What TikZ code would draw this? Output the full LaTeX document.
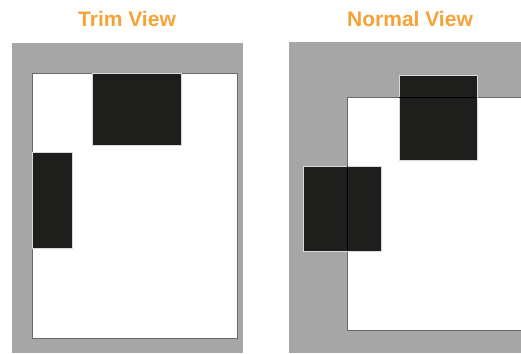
\documentclass[tikz,border=0pt]{standalone}
\usepackage{fontspec}
\setmainfont{Liberation Sans}
\definecolor{panelgray}{HTML}{A6A6A6}
\definecolor{blockblack}{HTML}{1E1E1C}
\definecolor{titleorange}{HTML}{F7A137}
\definecolor{pageedge}{HTML}{6A6A6A}
\tikzset{
  panel/.style={fill=panelgray, draw=none},
  page/.style={fill=white, draw=pageedge, line width=0.8pt},
  pageline/.style={draw=black, line width=0.8pt},
  block/.style={fill=blockblack, draw=black!15, line width=0.6pt},
  title/.style={text=titleorange, font=\fontsize{21}{24}\selectfont\bfseries, anchor=base}
}
\begin{document}
\begin{tikzpicture}[x=1pt,y=-1pt]
\useasboundingbox (0,0) rectangle (521,353);
% titles
\node[title] (t1) at (127,27) {Trim View};
\node[title] (t2) at (410,27) {Normal View};
% left panel
\fill[panel] (12,43) rectangle (243,353);
\draw[page] (32,73) rectangle (237,338);
\draw[block] (92,73) rectangle (181,145);
\draw[block] (32,152) rectangle (72,248);
% right panel
\fill[panel] (289,42) rectangle (521,353);
\draw[page] (347,97) rectangle (530,330);
\draw[block] (399,75) rectangle (477,160);
\draw[block] (303,166) rectangle (381,251);
\begin{scope}
\clip (0,0) rectangle (521,353);
\draw[pageline] (399,97) -- (477,97);
\draw[pageline] (347,166) -- (347,251);
\end{scope}
\end{tikzpicture}
\end{document}
